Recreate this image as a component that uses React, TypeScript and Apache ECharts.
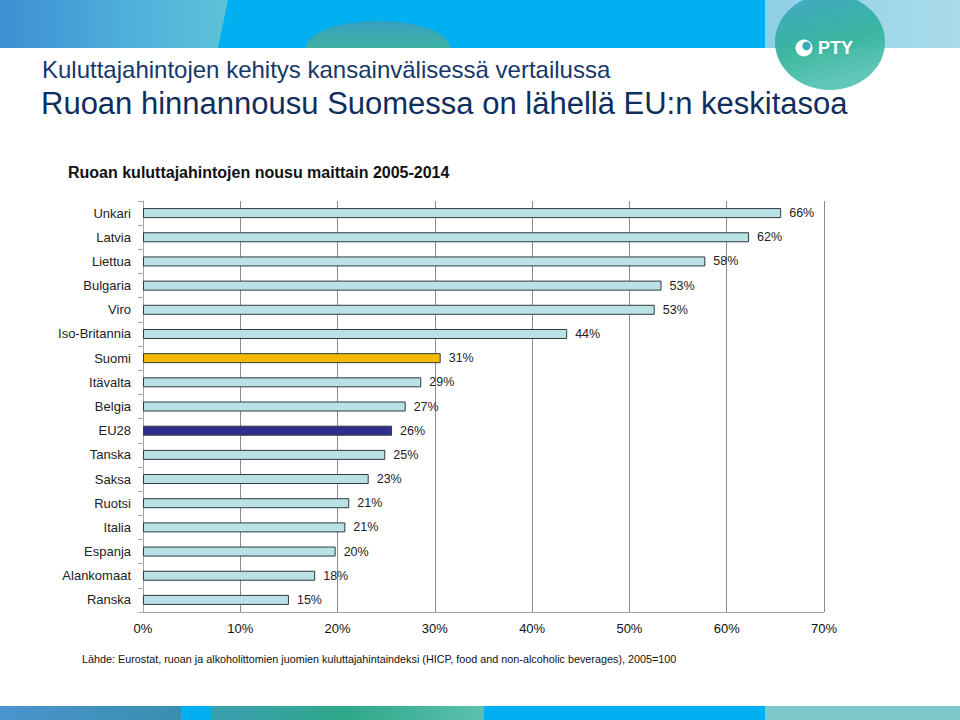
import React, { useEffect, useRef } from "react";
import * as echarts from "echarts";

const categories = [
  "Unkari", "Latvia", "Liettua", "Bulgaria", "Viro", "Iso-Britannia", "Suomi",
  "Itävalta", "Belgia", "EU28", "Tanska", "Saksa", "Ruotsi", "Italia",
  "Espanja", "Alankomaat", "Ranska",
];
const values = [65.6, 62.3, 57.8, 53.3, 52.6, 43.6, 30.6, 28.6, 27.0, 25.6, 24.9, 23.2, 21.2, 20.8, 19.8, 17.7, 15.0];
const highlight: Record<string, string> = { Suomi: "#f6b800", EU28: "#2e2e8f" };
const baseColor = "#b9e1e6";
const xTicks = [0, 10, 20, 30, 40, 50, 60, 70];

const FONT = "Liberation Sans, Arial, sans-serif";

function halfEllipse(cx: number, cy: number, rx: number, ry: number, yMax: number): number[][] {
  const pts: number[][] = [];
  for (let i = 0; i <= 48; i++) {
    const a = Math.PI + (Math.PI * i) / 48;
    pts.push([cx + rx * Math.cos(a), Math.min(yMax, cy + ry * Math.sin(a))]);
  }
  return pts;
}

export default function App() {
  const ref = useRef<HTMLDivElement>(null);
  useEffect(() => {
    document.body.style.margin = "0";
    const chart = echarts.init(ref.current!, null, { renderer: "svg" });
    const lg = (stops: [number, string][], x2 = 1, y2 = 0) =>
      new echarts.graphic.LinearGradient(0, 0, x2, y2, stops.map(([o, c]) => ({ offset: o, color: c })));
    chart.setOption({
      animation: false,
      backgroundColor: "#ffffff",
      grid: { left: 143, right: 136, top: 201, height: 411, containLabel: false },
      xAxis: {
        type: "value",
        min: xTicks[0],
        max: xTicks[xTicks.length - 1],
        interval: 10,
        axisLine: { show: true, lineStyle: { color: "#a6a6a6", width: 1 } },
        axisTick: { show: false },
        axisLabel: { formatter: "{value}%", color: "#111", fontSize: 13, fontFamily: FONT, margin: 10 },
        splitLine: { show: true, lineStyle: { color: "#8c8c8c", width: 1 } },
      },
      yAxis: {
        type: "category",
        inverse: true,
        data: categories,
        axisLine: { show: true, lineStyle: { color: "#a6a6a6", width: 1 } },
        axisTick: { show: true, length: 5, lineStyle: { color: "#a6a6a6" } },
        axisLabel: { color: "#222", fontSize: 13, fontFamily: FONT, margin: 12 },
      },
      series: [
        {
          type: "bar",
          barWidth: 10,
          data: values.map((v, i) => ({
            value: v,
            itemStyle: { color: highlight[categories[i]] || baseColor },
          })),
          itemStyle: { borderColor: "#2f3b3b", borderWidth: 1 },
          label: {
            show: true,
            position: "right",
            distance: 8,
            formatter: (p: any) => Math.round(p.value) + "%",
            color: "#222",
            fontSize: 12.5,
            fontFamily: FONT,
          },
        },
      ],
      graphic: [
        // top banner
        { type: "rect", shape: { x: 0, y: 0, width: 960, height: 48 }, style: { fill: "#00b0f0" } },
        { type: "polygon", shape: { points: [[0, 0], [228, 0], [218, 48], [0, 48]] }, style: { fill: lg([[0, "#3d8fd2"], [0.6, "#4fb2dc"], [1, "#5cc3d6"]]) } },
        { type: "polygon", shape: { points: halfEllipse(378, 48, 72, 27, 48) }, style: { fill: lg([[0, "#35a0bf"], [1, "#3fb2a4"]], 0, 1) } },
        { type: "rect", shape: { x: 765, y: 0, width: 195, height: 48 }, style: { fill: lg([[0, "#8fd0e6"], [1, "#a9dcec"]]) } },
        { type: "ellipse", shape: { cx: 830, cy: 42, rx: 55, ry: 48 }, style: { fill: lg([[0, "#3da6c6"], [0.6, "#35b39c"], [1, "#58c4b4"]], 0.3, 1), opacity: 0.95 } },
        { type: "circle", shape: { cx: 804, cy: 48, r: 8.5 }, style: { fill: "#ffffff" } },
        { type: "circle", shape: { cx: 806.5, cy: 46, r: 4.2 }, style: { fill: "#3aa8b8" } },
        {
          type: "text", x: 818, y: 48,
          style: { text: "PTY", fill: "#ffffff", font: "bold 18px " + FONT, verticalAlign: "middle" },
        },
        // titles
        {
          type: "text", x: 42, y: 69,
          style: { text: "Kuluttajahintojen kehitys kansainvälisessä vertailussa", fill: "#16386a", font: "24px " + FONT, verticalAlign: "middle" },
        },
        {
          type: "text", x: 41, y: 103,
          style: { text: "Ruoan hinnannousu Suomessa on lähellä EU:n keskitasoa", fill: "#0f2e5c", font: "31px " + FONT, verticalAlign: "middle" },
        },
        {
          type: "text", x: 68, y: 172,
          style: { text: "Ruoan kuluttajahintojen nousu maittain 2005-2014", fill: "#111", font: "bold 16px " + FONT, verticalAlign: "middle" },
        },
        {
          type: "text", x: 82, y: 659,
          style: { text: "Lähde: Eurostat, ruoan ja alkoholittomien juomien kuluttajahintaindeksi (HICP, food and non-alcoholic beverages), 2005=100", fill: "#111", font: "10.8px " + FONT, verticalAlign: "middle" },
        },
        // bottom banner
        { type: "rect", shape: { x: 0, y: 706, width: 181, height: 14 }, style: { fill: lg([[0, "#4a94cf"], [1, "#3a8fae"]]) } },
        { type: "rect", shape: { x: 181, y: 706, width: 30, height: 14 }, style: { fill: "#00b0f0" } },
        { type: "rect", shape: { x: 211, y: 706, width: 273, height: 14 }, style: { fill: lg([[0, "#3a9fb0"], [0.5, "#2fa88a"], [1, "#5cc0b0"]]) } },
        { type: "rect", shape: { x: 484, y: 706, width: 281, height: 14 }, style: { fill: "#00b0f0" } },
        { type: "rect", shape: { x: 765, y: 706, width: 195, height: 14 }, style: { fill: "#7ec8cc" } },
      ],
    });
    return () => chart.dispose();
  }, []);
  return <div ref={ref} style={{ width: 960, height: 720 }} />;
}
